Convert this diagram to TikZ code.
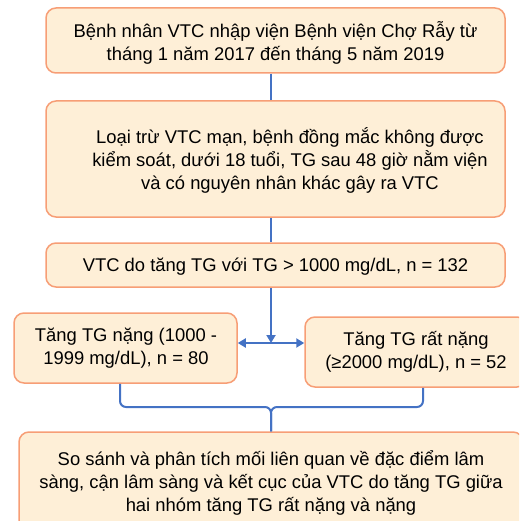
\documentclass[tikz,border=0pt]{standalone}
\usepackage{fontspec}
\setmainfont{Liberation Sans}
\usetikzlibrary{arrows.meta}
\definecolor{boxfill}{HTML}{FEEFD7}
\definecolor{boxline}{HTML}{F79E76}
\definecolor{connblue}{HTML}{4472C4}
\tikzset{
  box/.style={draw=boxline, fill=boxfill, line width=1.5pt, rounded corners=10pt, inner sep=0pt},
  txt/.style={align=center, font=\fontsize{18.4}{23}\selectfont, inner sep=0pt},
  conn/.style={draw=connblue, line width=2pt},
  tip/.style={-{Triangle[length=8pt,width=9pt]}}
}
\begin{document}
\begin{tikzpicture}[x=1pt,y=1pt]
\useasboundingbox (0,0) rectangle (519,-521);
\clip (0,0) rectangle (519,-521);
% boxes
\node[box, minimum width=459pt, minimum height=65pt] (b1) at (275.5,-40.5) {};
\node[txt] (t1) at (275.5,-42.5) {Bệnh nhân VTC nhập viện Bệnh viện Chợ Rẫy từ\\tháng 1 năm 2017 đến tháng 5 năm 2019};
\node[box, minimum width=459pt, minimum height=116pt] (b2) at (275.5,-159) {};
\node[txt] (t2) at (290,-160) {Loại trừ VTC mạn, bệnh đồng mắc không được\\kiểm soát, dưới 18 tuổi, TG sau 48 giờ nằm viện\\và có nguyên nhân khác gây ra VTC};
\node[box, minimum width=459pt, minimum height=44pt] (b3) at (275.5,-265) {};
\node[txt] (t3) at (275.5,-266.5) {VTC do tăng TG với TG > 1000 mg/dL, n = 132};
\node[box, minimum width=223pt, minimum height=70pt] (bl) at (125.5,-348) {};
\node[txt] (tl) at (126,-348.5) {Tăng TG nặng (1000 -\\1999 mg/dL), n = 80};
\node[box, minimum width=222pt, minimum height=70pt] (br) at (416,-352) {};
\node[txt] (tr) at (416,-352) {Tăng TG rất nặng\\(≥2000 mg/dL), n = 52};
\node[box, minimum width=504pt, minimum height=100pt] (b4) at (271,-482) {};
\node[txt] (t4) at (271,-482.5) {So sánh và phân tích mối liên quan về đặc điểm lâm\\sàng, cận lâm sàng và kết cục của VTC do tăng TG giữa\\hai nhóm tăng TG rất nặng và nặng};
% connectors
\coordinate (split) at (271,-343);
\coordinate (join) at (271,-407);
\draw[conn] ([xshift=-4.5pt]b1.south) -- ([xshift=-4.5pt]b2.north);
\draw[conn] ([xshift=-4.5pt]b2.south) -- ([xshift=-4.5pt]b3.north);
\draw[conn, tip] ([xshift=-4.5pt]b3.south) -- (split);
\draw[conn, tip] (split) -- (bl.east |- split);
\draw[conn, tip] (split) -- (br.west |- split);
\draw[conn, rounded corners=6pt] ([xshift=-5.5pt]bl.south) |- (join) -- (b4.north);
\draw[conn, rounded corners=6pt] ([xshift=7pt]br.south) |- (join) -- (b4.north);
\end{tikzpicture}
\end{document}
